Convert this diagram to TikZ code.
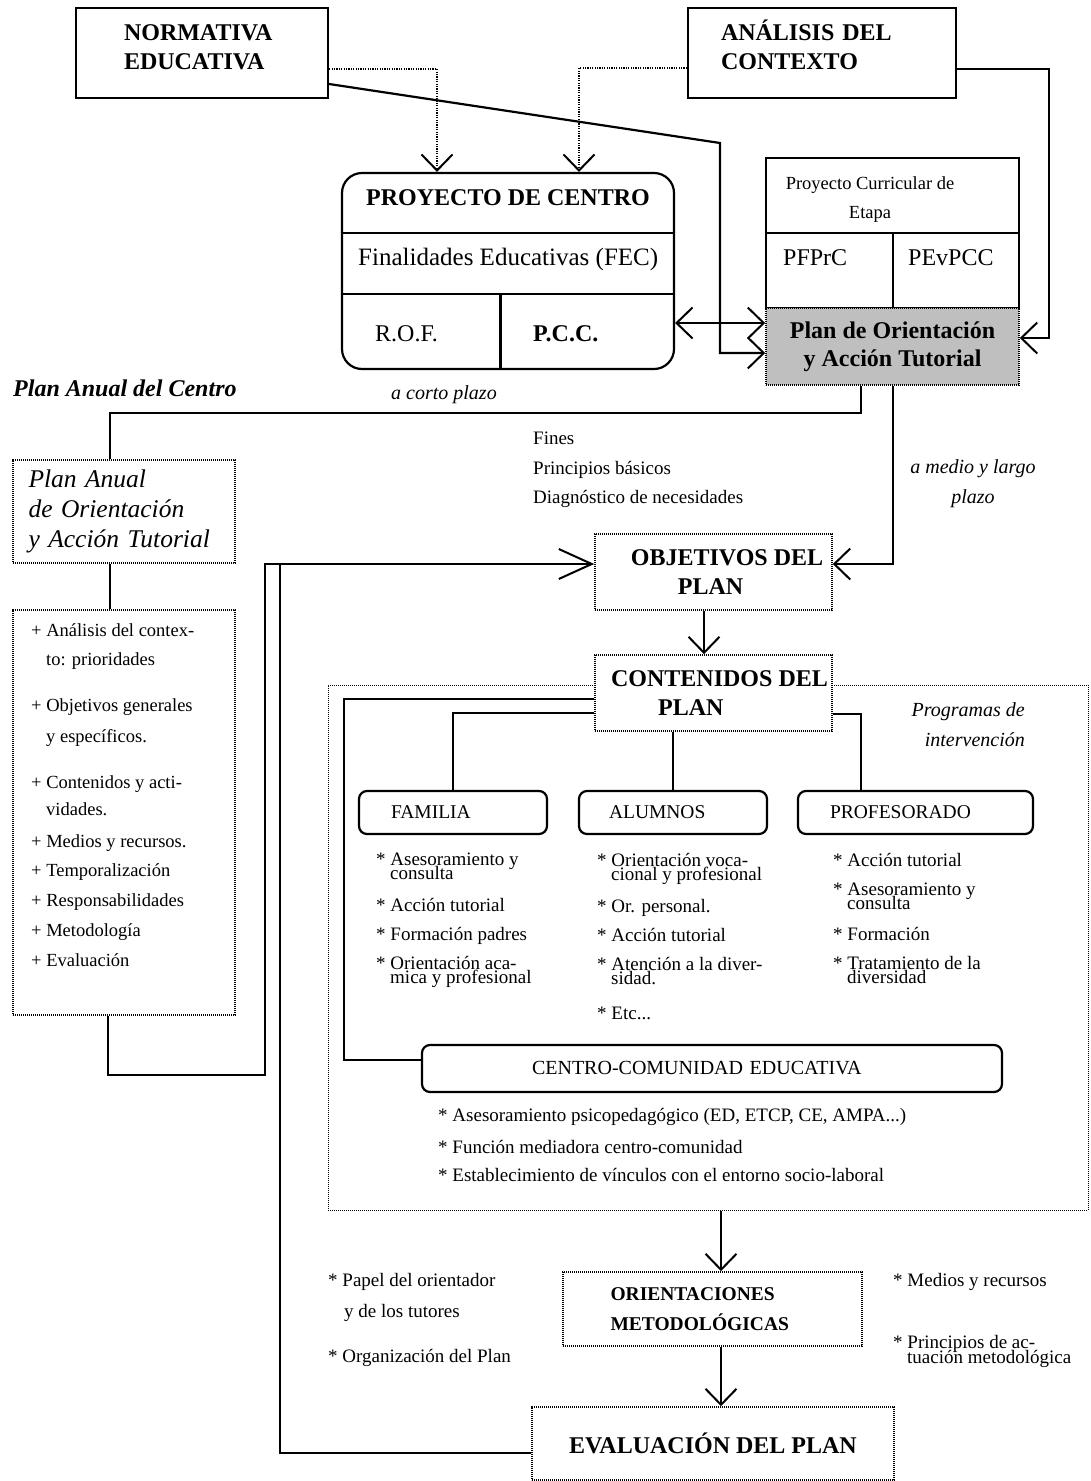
\documentclass[tikz,border=0pt]{standalone}
\usepackage{fontspec}
\setmainfont{Liberation Serif}
\usetikzlibrary{
    arrows.meta,    % open V tips (Straight Barb)
    positioning
}
\newcommand{\lw}{2.2pt}
\newcommand{\titlefont}{\fontsize{24}{29}\selectfont\bfseries}
\newcommand{\boxfont}{\fontsize{19.5}{30}\selectfont}
\newcommand{\notefont}{\fontsize{19}{29.5}\selectfont}
\newcommand{\tightfont}[2]{\fontsize{#1}{#2}\selectfont\lineskiplimit=-50pt\relax}
\tikzset{
    title box/.style={draw, line width=\lw, inner ysep=0pt, align=left, font=\titlefont},
    dot box/.style={draw, line width=1.6pt, dash pattern=on 1.2pt off 0.8pt, inner sep=0pt},
    program box/.style={draw, line width=\lw, rounded corners=8pt, inner ysep=0pt, align=left, font=\boxfont},
    plain text/.style={inner sep=0pt, align=left},
    thick link/.style={line width=\lw},
    thin link/.style={line width=1.6pt},
    dot link/.style={line width=1.2pt, dash pattern=on 1.2pt off 1.2pt},
    long arrow/.style={-{Straight Barb[length=33pt,width=30pt,line width=2pt]}}
}

\begin{document}
\begin{tikzpicture}[x=1pt, y=-1pt, >={Straight Barb[length=16pt,width=31pt,line width=2pt]}]
    \useasboundingbox (0,0) rectangle (1090,1481);
    \fill[white] (0,0) rectangle (1090,1481);

    % sources
    \node[title box, text width=156pt, inner xsep=48pt, minimum height=90pt] (normativa) at (202,53)
        {NORMATIVA\\EDUCATIVA\rule[-12pt]{0pt}{0pt}};
    \node[title box, text width=202pt, inner xsep=33pt, minimum height=90pt] (analisis) at (822,53)
        {ANÁLISIS DEL\\CONTEXTO\rule[-16pt]{0pt}{0pt}};

    % proyecto de centro
    \node[draw, line width=\lw, rounded corners=20pt, minimum width=332pt, minimum height=196pt, inner sep=0pt] (proyecto) at (508,271) {};
    \draw[line width=\lw] (proyecto.west |- 0,233) -- (proyecto.east |- 0,233)
        (proyecto.west |- 0,294) -- (proyecto.east |- 0,294)
        (500.5,294) -- (proyecto.south -| 500.5,0);
    \node[font=\titlefont, anchor=base, inner sep=0pt] (pcTitle) at (508,205) {PROYECTO DE CENTRO};
    \node[plain text, font=\fontsize{25}{30}\selectfont, anchor=base west] (fec) at (358,265) {Finalidades Educativas (FEC)};
    \node[plain text, font=\fontsize{24}{29}\selectfont, anchor=base west] (rof) at (375,341) {R.O.F.};
    \node[plain text, font=\titlefont, anchor=base west] (pcc) at (533,341) {P.C.C.};

    % proyecto curricular de etapa
    \node[draw, line width=\lw, minimum width=253pt, minimum height=150pt, inner sep=0pt] (pce) at (892.5,233) {};
    \draw[line width=\lw] (pce.west) -- (pce.east) (893,233) -- (pce.south -| 893,0);
    \node[plain text, align=center, font=\fontsize{18.5}{29}\selectfont, anchor=north] (pceTitle) at (870,176) {Proyecto Curricular de\\Etapa};
    \node[plain text, font=\fontsize{24}{29}\selectfont, anchor=base west] (pfprc) at (783,265) {PFPrC};
    \node[plain text, font=\fontsize{24}{29}\selectfont, anchor=base west] (pevpcc) at (908,265) {PEvPCC};
    \node[dot box, fill=gray!50, minimum width=253pt, minimum height=77pt, align=center, font=\fontsize{24}{28}\selectfont\bfseries] (poat) at (892.5,346.5)
        {Plan de Orientación\\y Acción Tutorial};

    % plan anual
    \node[plain text, font=\fontsize{24}{29}\selectfont\bfseries\itshape, anchor=base west] (panual) at (13,396) {Plan Anual del Centro};
    \node[plain text, font=\fontsize{20}{24}\selectfont\itshape, anchor=base west] (corto) at (391,399) {a corto plazo};
    \node[dot box, text width=191pt, inner xsep=15.5pt, minimum height=103pt, align=left, font=\fontsize{25.5}{30}\selectfont\itshape] (paoat) at (124,511.5)
        {Plan Anual\\de Orientación\\y Acción Tutorial};
    \node[dot box, minimum width=222pt, minimum height=405pt] (lista) at (124,812.5) {};
    \node[plain text, font=\tightfont{18.5}{30}, anchor=north west] (listaText) at (31,623) {%
        + Análisis del contex-\\[-1pt]
        \hspace*{15pt}to: prioridades\\[16pt]
        + Objetivos generales\\[1pt]
        \hspace*{15pt}y específicos.\\[16pt]
        + Contenidos y acti-\\[-3pt]
        \hspace*{15pt}vidades.\\[2pt]
        + Medios y recursos.\\[-1pt]
        + Temporalización\\
        + Responsabilidades\\
        + Metodología\\
        + Evaluación};

    \node[plain text, font=\notefont, anchor=north west] (fines) at (533,432) {Fines\\Principios básicos\\Diagnóstico de necesidades};
    \node[plain text, align=center, font=\fontsize{20}{30}\selectfont\itshape, anchor=north] (medio) at (973,459) {a medio y largo\\plazo};

    % objetivos y contenidos
    \node[dot box, minimum width=237pt, minimum height=76pt, align=left, font=\fontsize{24}{29.5}\selectfont\bfseries] (objetivos) at (713.5,572)
        {\hspace*{27pt}OBJETIVOS DEL\\\hspace*{74pt}PLAN};
    \node[draw, line width=1pt, dash pattern=on 1pt off 1pt, minimum width=760pt, minimum height=525pt, inner sep=0pt] (programas) at (708,947.5) {};
    \node[dot box, fill=white, minimum width=237pt, minimum height=76pt, align=left, font=\fontsize{24}{29.5}\selectfont\bfseries] (contenidos) at (713.5,693)
        {\hspace*{12pt}CONTENIDOS DEL\\\hspace*{59pt}PLAN};
    \node[plain text, align=right, font=\fontsize{20}{30}\selectfont\itshape, anchor=north east] (progLabel) at (1025,702) {Programas de\\intervención};

    % programas de intervencion
    \node[program box, text width=124pt, inner xsep=32pt, minimum height=43pt] (familia) at (453,812.5) {FAMILIA};
    \node[program box, text width=128pt, inner xsep=30pt, minimum height=43pt] (alumnos) at (673,812.5) {ALUMNOS};
    \node[program box, text width=171pt, inner xsep=32pt, minimum height=43pt] (profesorado) at (915.5,812.5) {PROFESORADO};
    \node[program box, text width=360pt, inner xsep=110pt, minimum height=47pt, font=\fontsize{20}{24}\selectfont] (centro) at (712,1068.5) {CENTRO-COMUNIDAD EDUCATIVA};

    \node[plain text, font=\tightfont{19}{14}, anchor=north west] (familiaItems) at (376,853) {%
        * Asesoramiento y\\\hspace*{14pt}consulta\\[18pt]
        * Acción tutorial\\[15pt]
        * Formación padres\\[15pt]
        * Orientación aca-\\\hspace*{14pt}mica y profesional};
    \node[plain text, font=\tightfont{19}{14}, anchor=north west] (alumnosItems) at (597,853) {%
        * Orientación voca-\\\hspace*{14pt}cional y profesional\\[18pt]
        * Or. personal.\\[15pt]
        * Acción tutorial\\[15pt]
        * Atención a la diver-\\\hspace*{14pt}sidad.\\[21pt]
        * Etc...};
    \node[plain text, font=\tightfont{19}{14}, anchor=north west] (profesoradoItems) at (833,853) {%
        * Acción tutorial\\[15pt]
        * Asesoramiento y\\\hspace*{14pt}consulta\\[17pt]
        * Formación\\[15pt]
        * Tratamiento de la\\\hspace*{14pt}diversidad};
    \node[plain text, font=\fontsize{19}{30}\selectfont, anchor=north west] (centroItems) at (438,1108) {%
        * Asesoramiento psicopedagógico (ED, ETCP, CE, AMPA...)\\[2pt]
        * Función mediadora centro-comunidad\\[-2pt]
        * Establecimiento de vínculos con el entorno socio-laboral};

    % orientaciones y evaluacion
    \node[dot box, text width=204pt, inner xsep=47.5pt, minimum height=74pt, align=left, font=\fontsize{19.5}{30}\selectfont\bfseries] (orient) at (712.5,1309)
        {ORIENTACIONES\\METODOLÓGICAS};
    \node[dot box, minimum width=362pt, minimum height=73pt, font=\titlefont] (evaluacion) at (713,1443.5) {EVALUACIÓN DEL PLAN};
    \node[plain text, font=\fontsize{19}{31}\selectfont, anchor=north west] (leftNotes) at (328,1273)
        {* Papel del orientador\\\hspace*{16pt}y de los tutores\\[14pt]* Organización del Plan};
    \node[plain text, font=\tightfont{19}{15}, anchor=north west] (rightNotes) at (893,1273)
        {* Medios y recursos\\[47pt]* Principios de ac-\\\hspace*{14pt}tuación metodológica};

    % connectors
    \draw[dot link, ->] (normativa.east |- 0,69) -| (proyecto.north -| 437,0);
    \draw[dot link, ->] (analisis.west |- 0,68) -| (proyecto.north -| 579,0);
    \draw[thick link, ->] (normativa.east |- 0,84) -- (720,143) |- (poat.west |- 0,353);
    \draw[thick link, ->] (analisis.east |- 0,69) -- (1049,69) |- (poat.east |- 0,338);
    \draw[thick link, <->] (proyecto.east |- 0,323) -- (poat.west |- 0,323);
    \draw[thick link] (poat.south -| 861,0) |- (110,413) -- (paoat.north -| 110,0);
    \draw[thick link, ->] (poat.south -| 893,0) |- (objetivos.east |- 0,564);
    \draw[thick link] (paoat.south -| 110,0) -- (lista.north -| 110,0);
    \draw[thick link, long arrow] (lista.south -| 108,0) |- (265,1075) |- (objetivos.west |- 0,564);
    \draw[thick link] (evaluacion.west |- 0,1453) -| (280,564);
    \draw[thin link, ->] (objetivos.south -| 704,0) -- (contenidos.north -| 704,0);
    \draw[thick link] (contenidos.west |- 0,699) -| (344,1060) -- (centro.west |- 0,1060);
    \draw[thick link] (contenidos.west |- 0,713) -| (familia.north);
    \draw[thick link] (contenidos.south -| alumnos.north) -- (alumnos.north);
    \draw[thick link] (contenidos.east |- 0,714) -| (profesorado.north -| 861,0);
    \draw[thick link, ->] (programas.south -| 721,0) -- (orient.north -| 721,0);
    \draw[thick link, ->] (orient.south -| 721,0) -- (evaluacion.north -| 721,0);
\end{tikzpicture}
\end{document}
